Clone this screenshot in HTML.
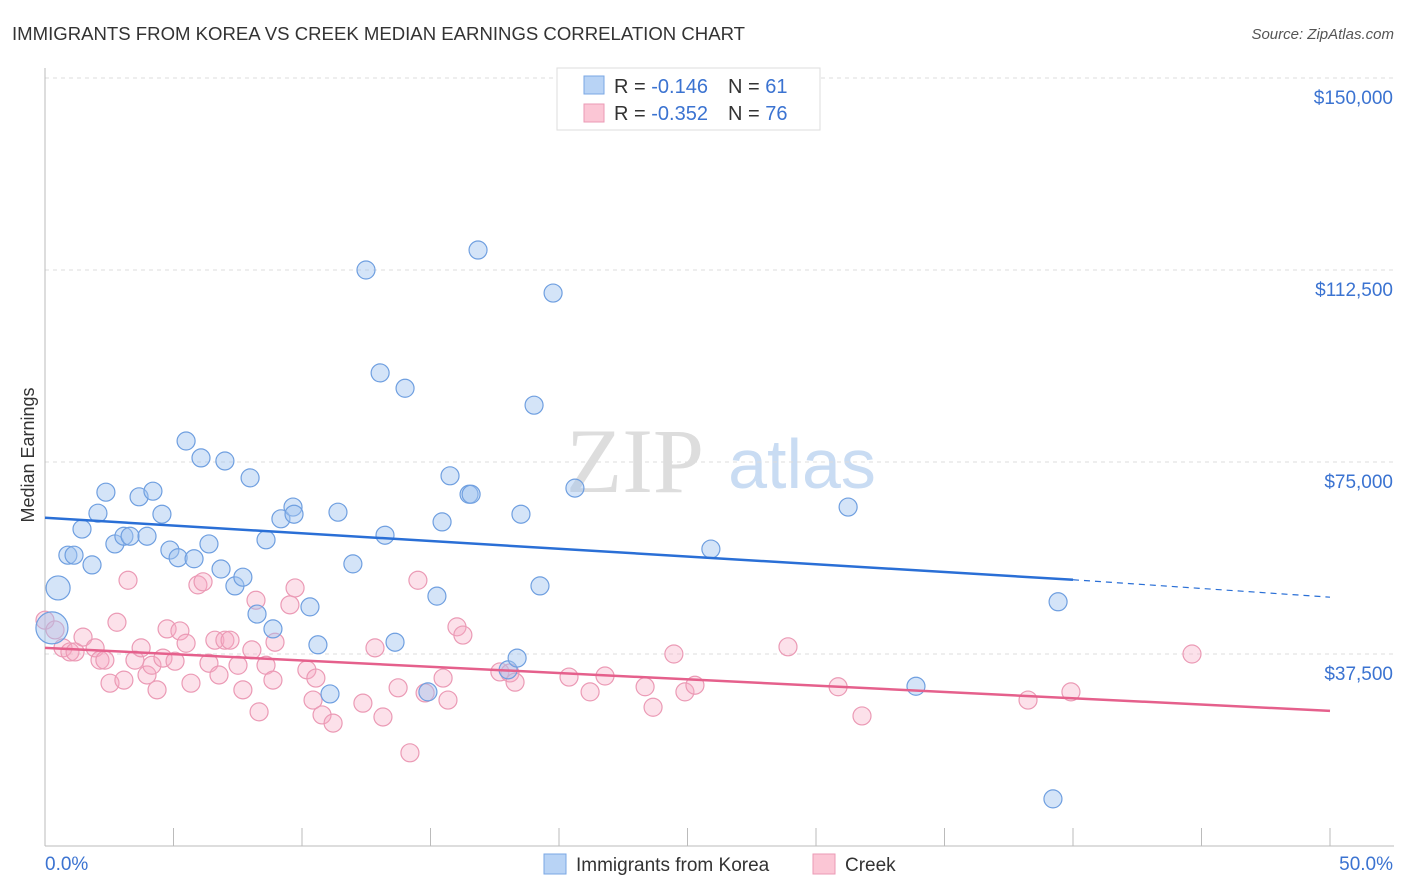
<!DOCTYPE html>
<html><head><meta charset="utf-8">
<style>
body{margin:0;background:#fff;font-family:"Liberation Sans",sans-serif;}
svg{display:block}
</style></head>
<body>
<svg id="chart" width="1406" height="892" xmlns="http://www.w3.org/2000/svg">
<text x="12" y="40" font-size="18" fill="#333" textLength="733" lengthAdjust="spacingAndGlyphs">IMMIGRANTS FROM KOREA VS CREEK MEDIAN EARNINGS CORRELATION CHART</text>
<text x="1394" y="39" font-size="15" fill="#555" font-style="italic" text-anchor="end">Source: ZipAtlas.com</text>
<text x="34" y="455" font-size="18" fill="#333" transform="rotate(-90 34 455)" text-anchor="middle">Median Earnings</text>
<g>
<text x="635" y="492" font-size="92" fill="#ddd" font-family="Liberation Serif,serif" text-anchor="middle">ZIP</text>
<text x="802" y="488" font-size="70" fill="#c9dcf3" text-anchor="middle">atlas</text>
</g>
<g id="grid"></g>
<g id="axes"></g>
<g id="marks"></g>
<g>
<rect x="557" y="68" width="263" height="62" fill="#fff" stroke="#ddd"/>
<rect x="584" y="76" width="20" height="18" fill="#b8d3f5" stroke="#7aa7e4"/>
<rect x="584" y="104" width="20" height="18" fill="#fbc6d5" stroke="#eb9ab5"/>
<text x="614" y="93" font-size="20" fill="#333">R =  <tspan fill="#3b73d1">-0.146</tspan><tspan dx="20">N =  </tspan><tspan fill="#3b73d1">61</tspan></text>
<text x="614" y="120" font-size="20" fill="#333">R =  <tspan fill="#3b73d1">-0.352</tspan><tspan dx="20">N = </tspan><tspan fill="#3b73d1">76</tspan></text>
</g>
<g>
<rect x="544" y="854" width="22" height="20" fill="#b8d3f5" stroke="#7aa7e4"/>
<text x="576" y="871" font-size="19" fill="#333">Immigrants from Korea</text>
<rect x="813" y="854" width="22" height="20" fill="#fbc6d5" stroke="#eb9ab5"/>
<text x="845" y="871" font-size="19" fill="#333">Creek</text>
</g>
</svg>
<script>
const yTicks=[37500,75000,112500,150000];
const yTickLabels=["$37,500","$75,000","$112,500","$150,000"];
const xTicks=[0,5,10,15,20,25,30,35,40,45,50];
const koreaX=[0.27,0.51,0.89,1.13,1.44,1.83,2.06,2.37,2.72,3.07,3.31,3.66,3.97,4.20,4.55,4.86,5.18,5.49,5.80,6.07,6.38,6.85,7.00,7.39,7.70,7.98,8.25,8.60,8.87,9.18,9.65,9.69,10.31,10.62,11.09,11.40,11.98,12.49,13.04,13.23,13.62,14.01,14.90,15.25,15.45,15.76,16.50,16.58,16.85,18.02,18.37,18.52,19.03,19.26,19.77,20.62,25.91,31.25,33.89,39.42,39.22];
const koreaY=[42.6,50.4,56.8,56.8,61.9,54.9,65.0,69.1,59.0,60.5,60.5,68.2,60.5,69.3,64.8,57.8,56.3,79.1,56.1,75.8,59.0,54.1,75.2,50.8,52.5,71.9,45.3,59.8,42.4,63.9,66.2,64.8,46.7,39.3,29.7,65.2,55.1,112.5,92.4,60.7,39.8,89.4,30.1,48.8,63.3,72.3,68.7,68.7,116.4,34.4,36.7,64.8,86.1,50.8,108.0,69.9,58.0,66.2,31.2,47.7,9.2];
const koreaSize=[16,12,9,9,9,9,9,9,9,9,9,9,9,9,9,9,9,9,9,9,9,9,9,9,9,9,9,9,9,9,9,9,9,9,9,9,9,9,9,9,9,9,9,9,9,9,9,9,9,9,9,9,9,9,9,9,9,9,9,9,9];
const creekX=[0.0,0.39,0.70,0.97,1.17,1.48,1.95,2.14,2.33,2.53,2.80,3.07,3.23,3.50,3.74,3.97,4.16,4.36,4.59,4.75,5.06,5.25,5.49,5.68,5.95,6.15,6.38,6.61,6.77,7.00,7.20,7.51,7.70,8.05,8.21,8.33,8.60,8.87,8.95,9.53,9.73,10.19,10.43,10.54,10.78,11.21,12.37,12.84,13.15,13.74,14.20,14.51,14.79,15.49,15.68,16.03,16.26,17.70,18.09,18.29,20.39,21.21,21.79,23.35,23.66,24.47,24.90,25.29,28.91,30.86,31.79,38.25,39.92,44.63];
const creekY=[44.1,42.2,38.7,37.9,37.9,40.8,38.7,36.3,36.3,31.8,43.7,32.4,51.9,36.3,38.7,33.4,35.3,30.5,36.7,42.4,36.1,42.0,39.6,31.8,51.0,51.6,35.7,40.2,33.4,40.2,40.2,35.3,30.5,38.3,48.0,26.2,35.3,32.4,39.8,47.1,50.4,34.4,28.5,32.8,25.6,24.0,27.9,38.7,25.2,30.9,18.2,51.9,29.9,32.8,28.5,42.8,41.2,34.0,33.8,32.0,33.0,30.1,33.2,31.1,27.1,37.5,30.1,31.4,38.9,31.1,25.4,28.5,30.1,37.5];
const koreaTrend=[64.1,52.0,48.6]; // y at x=0, x=40, x=50
const creekTrend=[38.7,26.4]; // y at x=0, x=50
const NS="http://www.w3.org/2000/svg";
const X=v=>45+v/50*1285;
const Y=v=>846-v/37500*192;
const Yk=v=>Y(v*1000);
function mk(tag,attrs,parent){const e=document.createElementNS(NS,tag);for(const k in attrs)e.setAttribute(k,attrs[k]);parent.appendChild(e);return e;}
const grid=document.getElementById('grid'),axes=document.getElementById('axes'),marks=document.getElementById('marks');
yTicks.forEach((t,i)=>{
 const l=mk('line',{x1:45,x2:1394,y1:Y(t),y2:Y(t),stroke:'#ddd','stroke-dasharray':'4 4'},grid);
 
 
 const tx=mk('text',{x:1393,y:Y(t)+26,'font-size':19,fill:'#3b73d1','text-anchor':'end'},axes);
 tx.textContent=yTickLabels[i];
 
 
});
const ya=mk('line',{x1:45,x2:45,y1:68,y2:846,stroke:'#bbb'},axes);


const xa=mk('line',{x1:45,x2:1394,y1:846,y2:846,stroke:'#bbb'},axes);


xTicks.forEach(t=>{
 const l=mk('line',{x1:X(t),x2:X(t),y1:828,y2:846,stroke:'#bbb'},axes);
 
 
});
const xl0=mk('text',{x:45,y:870,'font-size':19,fill:'#3b73d1'},axes);xl0.textContent=xTicks[0].toFixed(1)+'%';


const xl1=mk('text',{x:1393,y:870,'font-size':19,fill:'#3b73d1','text-anchor':'end'},axes);xl1.textContent=xTicks[xTicks.length-1].toFixed(1)+'%';


creekX.forEach((x,i)=>{
 const c=mk('circle',{cx:X(x),cy:Yk(creekY[i]),r:9,fill:'rgba(246,170,196,0.35)',stroke:'#eb9ab5','stroke-width':1.2},marks);
 
 
});
koreaX.forEach((x,i)=>{
 const c=mk('circle',{cx:X(x),cy:Yk(koreaY[i]),r:koreaSize[i],fill:'rgba(160,196,240,0.45)',stroke:'#6f9fe0','stroke-width':1.2},marks);
 
 
});
const kt=mk('line',{x1:X(0),y1:Yk(koreaTrend[0]),x2:X(40),y2:Yk(koreaTrend[1]),stroke:'#2a6fd6','stroke-width':2.5},marks);


const kd=mk('line',{x1:X(40),y1:Yk(koreaTrend[1]),x2:X(50),y2:Yk(koreaTrend[2]),stroke:'#2a6fd6','stroke-width':1.2,'stroke-dasharray':'6 5'},marks);


const ct=mk('line',{x1:X(0),y1:Yk(creekTrend[0]),x2:X(50),y2:Yk(creekTrend[1]),stroke:'#e5608c','stroke-width':2.5},marks);


</script>
</body></html>
